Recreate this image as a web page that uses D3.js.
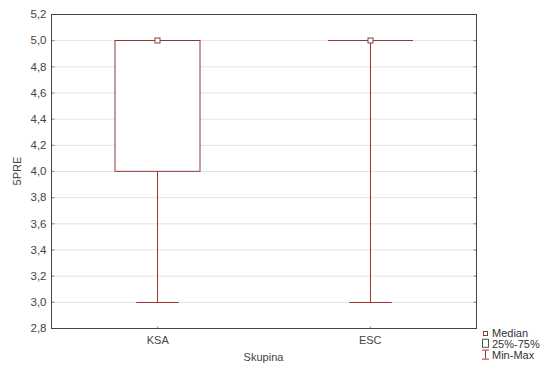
<!DOCTYPE html>
<html>
<head>
<meta charset="utf-8">
<script src="https://cdn.jsdelivr.net/npm/d3@7"></script>
<style>
  body { margin: 0; background: #fff; }
  svg text { font-family: "Liberation Sans", Arial, sans-serif; }
</style>
</head>
<body>
<svg id="mainsvg" width="550" height="372"></svg>
<script>
// data
const groups = ['KSA', 'ESC'];
const mins = [3.0, 3.0];
const q1s = [4.0, 5.0];
const medians = [5.0, 5.0];
const q3s = [5.0, 5.0];
const maxs = [5.0, 5.0];
const yTicks = [2.8, 3.0, 3.2, 3.4, 3.6, 3.8, 4.0, 4.2, 4.4, 4.6, 4.8, 5.0, 5.2];
const legendLabels = ['Median', '25%-75%', 'Min-Max'];

const svg = d3.select('#mainsvg');
const margin = { top: 14, right: 74, bottom: 44, left: 51 };
const innerWidth = 550 - margin.left - margin.right;
const innerHeight = 372 - margin.top - margin.bottom;

const boxColor = '#8c3b3b';
const whiskColor = '#a33232';
const textColor = '#444';

const xScale = d3.scalePoint()
    .domain(groups)
    .range([0, innerWidth])
    .padding(0.5);

const yScale = d3.scaleLinear()
    .domain([2.8, 5.2])
    .range([innerHeight, 0]);

const g = svg.append('g')
    .attr('transform', `translate(${margin.left}, ${margin.top})`);

// grid
g.selectAll('.grid').data(yTicks.slice(1, -1)).join('line')
    .attr('class', 'grid')
    .attr('x1', 0).attr('x2', innerWidth)
    .attr('y1', d => yScale(d) + 0.5).attr('y2', d => yScale(d) + 0.5)
    .attr('stroke', '#e3e3e3');

const fmt = d => d.toFixed(1).replace('.', ',');

// left axis, ticks pointing inside
const yAxis = d3.axisLeft(yScale).tickValues(yTicks).tickFormat(fmt)
    .tickSizeInner(-3).tickSizeOuter(0).tickPadding(5);
const ya = g.append('g').attr('transform', 'translate(0.5,0)').call(yAxis);
ya.select('.domain').remove();
ya.selectAll('.tick line').attr('stroke', '#888');
ya.selectAll('.tick text').attr('font-size', '11.5px').attr('fill', textColor);

// right ticks (inside)
const yAxisR = d3.axisLeft(yScale).tickValues(yTicks).tickFormat('').tickSize(3);
const yr = g.append('g').attr('transform', `translate(${innerWidth + 0.5},0)`).call(yAxisR);
yr.select('.domain').remove();
yr.selectAll('.tick line').attr('stroke', '#888');

// bottom axis
const xAxis = d3.axisBottom(xScale).tickSize(2).tickPadding(6);
const xa = g.append('g').attr('transform', `translate(0, ${innerHeight + 0.5})`).call(xAxis);
xa.select('.domain').remove();
xa.selectAll('.tick line').attr('stroke', '#888').attr('transform', 'translate(0,-2)');
xa.selectAll('.tick text').attr('font-size', '11px').attr('fill', textColor);

// frame
g.append('rect')
    .attr('x', 0.5).attr('y', 0.5)
    .attr('width', innerWidth).attr('height', innerHeight)
    .attr('fill', 'none').attr('stroke', '#444').attr('stroke-width', 1);

const boxW = innerWidth * 0.2;
const capW = boxW * 0.5;

groups.forEach((grp, i) => {
    const cx = Math.round(xScale(grp)) + 0.5;
    // whisker
    g.append('line')
        .attr('x1', cx).attr('x2', cx)
        .attr('y1', yScale(maxs[i])).attr('y2', yScale(mins[i]))
        .attr('stroke', whiskColor);
    [mins[i], maxs[i]].forEach(v => {
        g.append('line')
            .attr('x1', cx - capW / 2).attr('x2', cx + capW / 2)
            .attr('y1', Math.round(yScale(v)) + 0.5).attr('y2', Math.round(yScale(v)) + 0.5)
            .attr('stroke', whiskColor);
    });
    // box
    const top = Math.round(yScale(q3s[i])) + 0.5;
    const h = yScale(q1s[i]) - yScale(q3s[i]);
    if (h > 0) {
        g.append('rect')
            .attr('x', cx - boxW / 2).attr('y', top)
            .attr('width', boxW).attr('height', h)
            .attr('fill', '#fff').attr('stroke', boxColor);
    } else {
        g.append('line')
            .attr('x1', cx - boxW / 2).attr('x2', cx + boxW / 2)
            .attr('y1', top).attr('y2', top)
            .attr('stroke', boxColor);
    }
    // median
    g.append('rect')
        .attr('x', cx - 2.5).attr('y', Math.round(yScale(medians[i])) - 2)
        .attr('width', 5).attr('height', 5)
        .attr('fill', '#fff').attr('stroke', boxColor);
});

// axis titles
svg.append('text').text('5PRE')
    .attr('font-size', '11px').attr('fill', textColor)
    .attr('text-anchor', 'middle')
    .attr('transform', `translate(21, ${margin.top + innerHeight / 2}) rotate(-90)`);

svg.append('text').text('Skupina')
    .attr('font-size', '11px').attr('fill', textColor)
    .attr('text-anchor', 'middle')
    .attr('x', margin.left + innerWidth / 2).attr('y', 361);

// legend
const lg = svg.append('g').attr('transform', 'translate(481, 333)');
const rowH = 10.8;
legendLabels.forEach((lab, i) => {
    lg.append('text').text(lab)
        .attr('x', 11).attr('y', i * rowH + 4)
        .attr('font-size', '11px').attr('fill', '#333');
});
lg.append('rect').attr('x', 2.5).attr('y', -1.5).attr('width', 4).attr('height', 4)
    .attr('fill', '#fff').attr('stroke', boxColor);
lg.append('rect').attr('x', 1.5).attr('y', rowH - 4.5).attr('width', 6).attr('height', 8)
    .attr('fill', '#fff').attr('stroke', '#555');
lg.append('line').attr('x1', 4.5).attr('x2', 4.5).attr('y1', 2 * rowH - 4).attr('y2', 2 * rowH + 4)
    .attr('stroke', whiskColor);
lg.append('line').attr('x1', 1).attr('x2', 8).attr('y1', 2 * rowH - 4.5).attr('y2', 2 * rowH - 4.5)
    .attr('stroke', whiskColor);
lg.append('line').attr('x1', 1).attr('x2', 8).attr('y1', 2 * rowH + 4.5).attr('y2', 2 * rowH + 4.5)
    .attr('stroke', whiskColor);
</script>
</body>
</html>
